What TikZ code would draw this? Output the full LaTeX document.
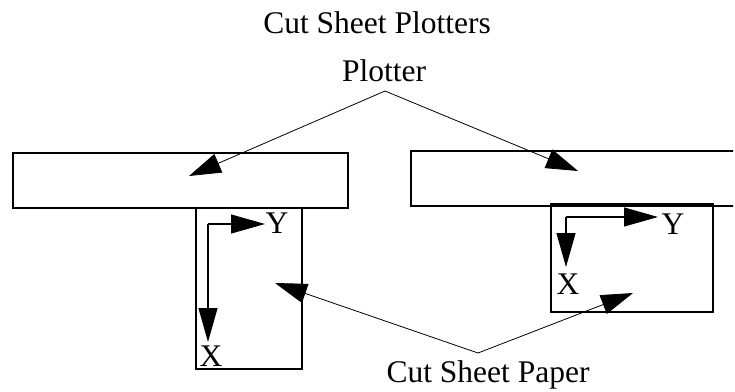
\documentclass[tikz,border=0pt]{standalone}
\usepackage{fontspec}
\setmainfont{Liberation Serif}
\usetikzlibrary{arrows.meta}
\tikzset{
  frame/.style={line width=1.4pt},
  lbl/.style={inner sep=0pt, anchor=base, font=\fontsize{31.5}{36}\selectfont},
  axis/.style={line width=1.1pt, -{Triangle[length=34pt, width=19pt]}},
  pointer/.style={line width=0.8pt, -{Triangle[length=32pt, width=20pt]}},
}
\begin{document}
\begin{tikzpicture}[x=1pt, y=-1pt]
\path[use as bounding box] (0,0) rectangle (735,391);

% titles
\node[lbl] (title) at (377,33) {Cut Sheet Plotters};
\node[lbl] (plotterlbl) at (384,81) {Plotter};
\node[lbl] (paperlbl) at (488,382) {Cut Sheet Paper};

% left plotter and its sheet
\coordinate (lplot) at (13,153);
\coordinate (lsheet) at (196,208);
\draw[frame] (lplot) rectangle ++(335,55);
\draw[frame] (lsheet) rectangle ++(106,161);

% right plotter (runs past the page edge) and its sheet
\coordinate (rplot) at (411,151);
\coordinate (rsheet) at (551,204);
\begin{scope}
  \clip (0,0) rectangle (733,391);
  \draw[frame] (760,151) -- (rplot) -- (411,206) -- (760,206);
\end{scope}
\draw[frame] (rsheet) rectangle ++(162,108);

% axes on the left sheet
\coordinate (lo) at (208,224);
\coordinate (lyt) at (265,224);
\coordinate (lxt) at (208,342);
\draw[axis] (lo) -- (lyt);
\draw[axis] (lo) -- (lxt);
\node[lbl] (ly) at (277,233) {Y};
\node[lbl] (lx) at (211,366) {X};

% axes on the right sheet
\coordinate (ro) at (566,217);
\coordinate (ryt) at (658,217);
\coordinate (rxt) at (566,267);
\draw[axis] (ro) -- (ryt);
\draw[axis] (ro) -- (rxt);
\node[lbl] (ry) at (673,234) {Y};
\node[lbl] (rx) at (568,294) {X};

% pointers from the labels
\coordinate (pfork) at (385,91);
\coordinate (pl) at (189,176);
\coordinate (pr) at (578,171);
\draw[pointer] (pfork) -- (pl);
\draw[pointer] (pfork) -- (pr);

\coordinate (sfork) at (478,353);
\coordinate (sl) at (275,283);
\coordinate (sr) at (633,293);
\draw[pointer] (sfork) -- (sl);
\draw[pointer] (sfork) -- (sr);
\end{tikzpicture}
\end{document}
